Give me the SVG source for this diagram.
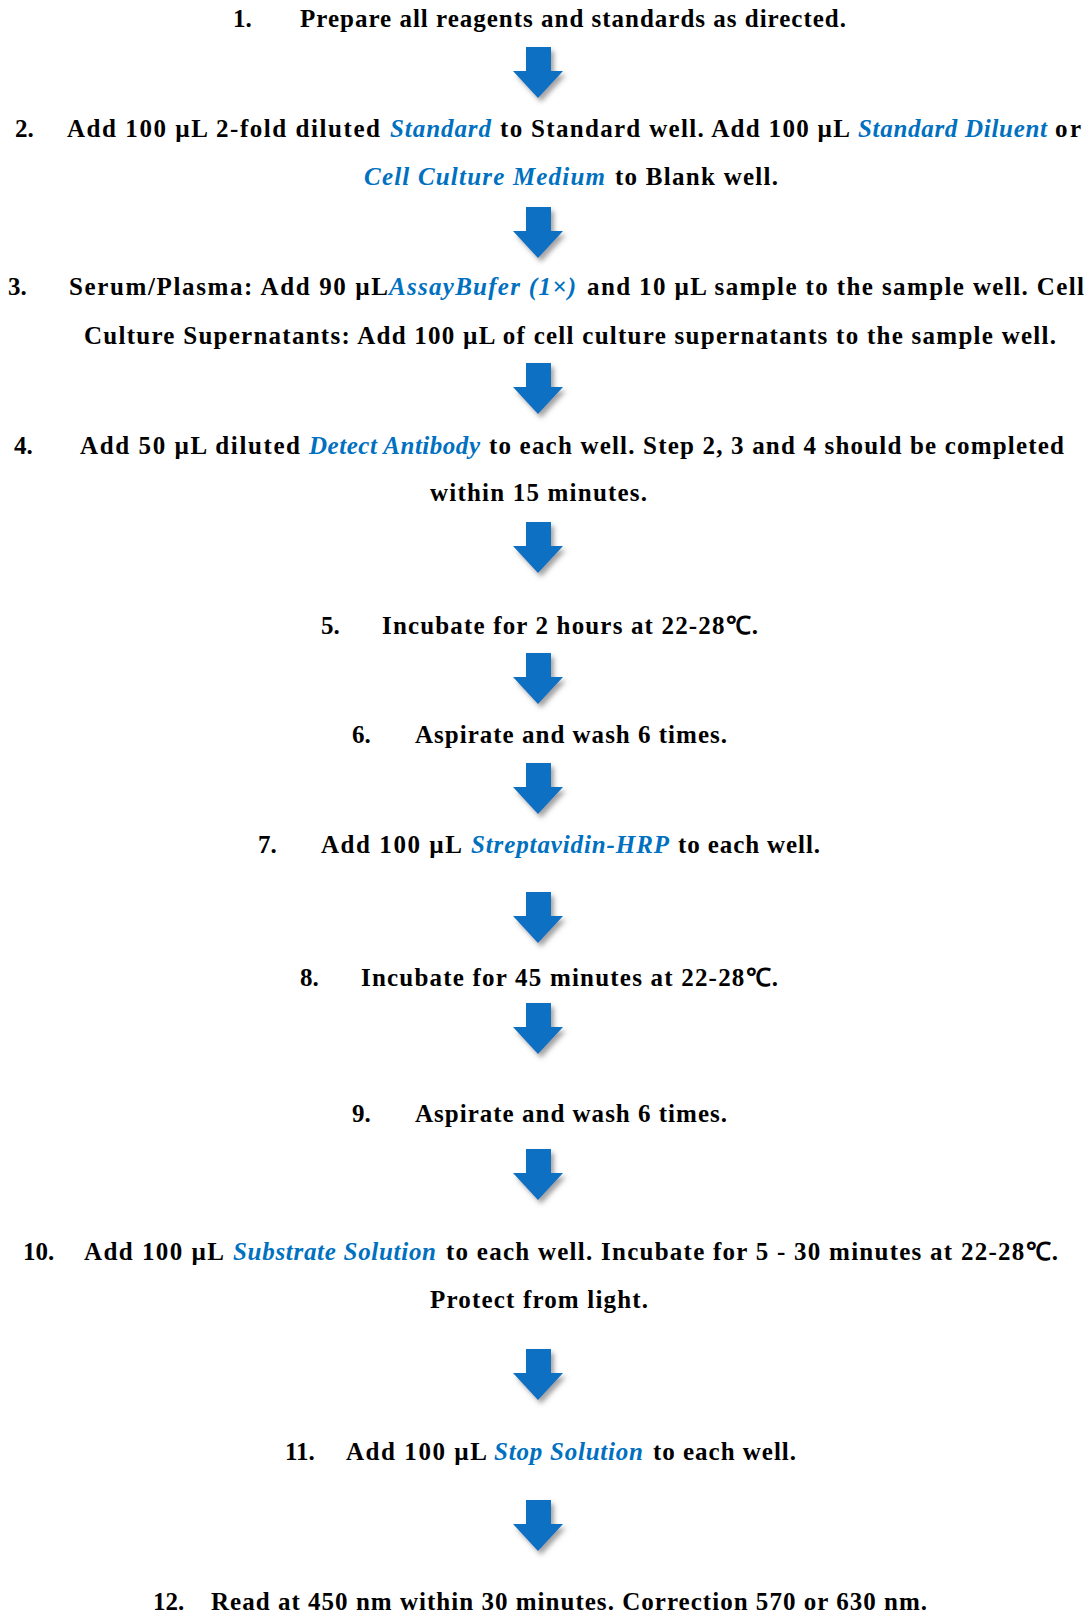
<svg xmlns="http://www.w3.org/2000/svg" xmlns:xlink="http://www.w3.org/1999/xlink" width="1091" height="1614" viewBox="0 0 1091 1614">
<style>
text{font-family:"Liberation Serif","Times New Roman",serif;font-size:25px;font-weight:bold;fill:#000}
.b{fill:#0070C0;font-style:italic;font-weight:bold}
.arrow{fill:#0A6FC2;filter:url(#sh)}
</style>
<defs>
<filter id="sh" x="-30%" y="-30%" width="170%" height="170%">
<feDropShadow dx="3" dy="4" stdDeviation="2.5" flood-color="#555" flood-opacity="0.55"/>
</filter>
<path id="arr" d="M13,0 H38 V24 H50 L25,51 L0,24 H13 Z"/>
</defs>
<rect width="1091" height="1614" fill="#fff"/>

<g id="step1">
<text x="233" y="27">1.</text>
<text x="300" y="27" textLength="546" lengthAdjust="spacing">Prepare all reagents and standards as directed.</text>
</g>

<g id="step2">
<text x="15" y="137">2.</text>
<text x="67" y="137" textLength="313" lengthAdjust="spacing">Add 100 µL 2-fold diluted</text>
<text class="b" x="390" y="137" textLength="101" lengthAdjust="spacing">Standard</text>
<text x="500" y="137" textLength="350" lengthAdjust="spacing">to Standard well. Add 100 µL</text>
<text class="b" x="858" y="137" textLength="189" lengthAdjust="spacing">Standard Diluent</text>
<text x="1055" y="137" textLength="26" lengthAdjust="spacing">or</text>
<text class="b" x="364" y="185" textLength="241" lengthAdjust="spacing">Cell Culture Medium</text>
<text x="615" y="185" textLength="163" lengthAdjust="spacing">to Blank well.</text>
</g>

<g id="step3">
<text x="8" y="295">3.</text>
<text x="69" y="295" textLength="319" lengthAdjust="spacing">Serum/Plasma: Add 90 µL</text>
<text class="b" x="389" y="295" textLength="187" lengthAdjust="spacing">AssayBufer (1×)</text>
<text x="587" y="295" textLength="497" lengthAdjust="spacing">and 10 µL sample to the sample well. Cell</text>
<text x="84" y="344" textLength="972" lengthAdjust="spacing">Culture Supernatants: Add 100 µL of cell culture supernatants to the sample well.</text>
</g>

<g id="step4">
<text x="14" y="454">4.</text>
<text x="80" y="454" textLength="220" lengthAdjust="spacing">Add 50 µL diluted</text>
<text class="b" x="309" y="454" textLength="171" lengthAdjust="spacing">Detect Antibody</text>
<text x="489" y="454" textLength="575" lengthAdjust="spacing">to each well. Step 2, 3 and 4 should be completed</text>
<text x="430" y="501" textLength="217" lengthAdjust="spacing">within 15 minutes.</text>
</g>

<g id="step5">
<text x="321" y="634">5.</text>
<text x="382" y="634" textLength="376" lengthAdjust="spacing">Incubate for 2 hours at 22-28℃.</text>
</g>

<g id="step6">
<text x="352" y="743">6.</text>
<text x="415" y="743" textLength="312" lengthAdjust="spacing">Aspirate and wash 6 times.</text>
</g>

<g id="step7">
<text x="258" y="853">7.</text>
<text x="321" y="853" textLength="141" lengthAdjust="spacing">Add 100 µL</text>
<text class="b" x="471" y="853" textLength="198" lengthAdjust="spacing">Streptavidin-HRP</text>
<text x="678" y="853" textLength="142" lengthAdjust="spacing">to each well.</text>
</g>

<g id="step8">
<text x="300" y="986">8.</text>
<text x="361" y="986" textLength="417" lengthAdjust="spacing">Incubate for 45 minutes at 22-28℃.</text>
</g>

<g id="step9">
<text x="352" y="1122">9.</text>
<text x="415" y="1122" textLength="312" lengthAdjust="spacing">Aspirate and wash 6 times.</text>
</g>

<g id="step10">
<text x="23" y="1260">10.</text>
<text x="84" y="1260" textLength="140" lengthAdjust="spacing">Add 100 µL</text>
<text class="b" x="233" y="1260" textLength="203" lengthAdjust="spacing">Substrate Solution</text>
<text x="446" y="1260" textLength="612" lengthAdjust="spacing">to each well. Incubate for 5 - 30 minutes at 22-28℃.</text>
<text x="430" y="1308" textLength="218" lengthAdjust="spacing">Protect from light.</text>
</g>

<g id="step11">
<text x="285" y="1460">11.</text>
<text x="346" y="1460" textLength="141" lengthAdjust="spacing">Add 100 µL</text>
<text class="b" x="494" y="1460" textLength="149" lengthAdjust="spacing">Stop Solution</text>
<text x="653" y="1460" textLength="143" lengthAdjust="spacing">to each well.</text>
</g>

<g id="step12">
<text x="153" y="1610">12.</text>
<text x="211" y="1610" textLength="716" lengthAdjust="spacing">Read at 450 nm within 30 minutes. Correction 570 or 630 nm.</text>
</g>

<g id="connectors">
<use xlink:href="#arr" href="#arr" class="arrow" x="513" y="47"/>
<use xlink:href="#arr" href="#arr" class="arrow" x="513" y="207"/>
<use xlink:href="#arr" href="#arr" class="arrow" x="513" y="363"/>
<use xlink:href="#arr" href="#arr" class="arrow" x="513" y="522"/>
<use xlink:href="#arr" href="#arr" class="arrow" x="513" y="653"/>
<use xlink:href="#arr" href="#arr" class="arrow" x="513" y="763"/>
<use xlink:href="#arr" href="#arr" class="arrow" x="513" y="892"/>
<use xlink:href="#arr" href="#arr" class="arrow" x="513" y="1003"/>
<use xlink:href="#arr" href="#arr" class="arrow" x="513" y="1149"/>
<use xlink:href="#arr" href="#arr" class="arrow" x="513" y="1349"/>
<use xlink:href="#arr" href="#arr" class="arrow" x="513" y="1500"/>
</g>
</svg>
